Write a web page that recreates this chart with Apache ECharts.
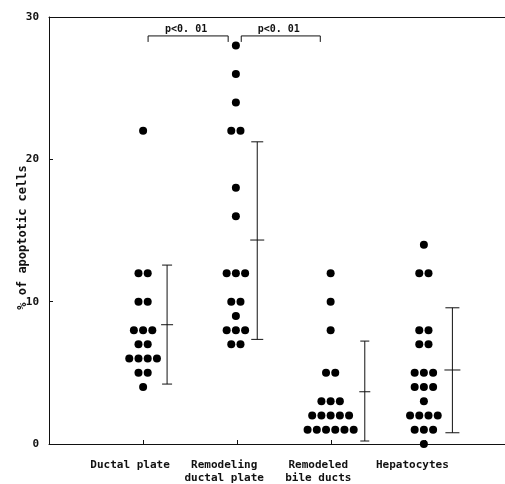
<!DOCTYPE html>
<html><head><meta charset="utf-8">
<script src="https://cdn.jsdelivr.net/npm/echarts@6/dist/echarts.min.js"></script>
<style>html,body{margin:0;padding:0;background:#fff}#c{width:505px;height:484px}</style>
</head><body><div id="c"></div>
<script>
// ---- data ----
const categories = ['Ductal plate', 'Remodeling\nductal plate', 'Remodeled\nbile ducts', 'Hepatocytes'];
const ductalPlate = [22, 12, 12, 10, 10, 8, 8, 8, 7, 7, 6, 6, 6, 6, 5, 5, 4];
const remodelingDuctalPlate = [28, 26, 24, 22, 22, 18, 16, 12, 12, 12, 10, 10, 9, 8, 8, 8, 7, 7];
const remodeledBileDucts = [12, 10, 8, 5, 5, 3, 3, 3, 2, 2, 2, 2, 2, 1, 1, 1, 1, 1, 1];
const hepatocytes = [14, 12, 12, 8, 8, 7, 7, 5, 5, 5, 4, 4, 4, 3, 2, 2, 2, 2, 1, 1, 1, 0];
const errLow = [4.21, 7.35, 0.21, 0.79];
const errMean = [8.38, 14.33, 3.67, 5.2];
const errHigh = [12.57, 21.23, 7.23, 9.57];
const yTicks = [0, 10, 20, 30];
const sigLabel = 'p<0. 01';
const sigPairs = [[1, 2], [2, 3]];

// ---- layout / style constants ----
const FONT = "'DejaVu Sans Mono', monospace";
const INK = '#111';
const groupShift = [0, -0.014, -0.007, -0.016];
const dotStep = 0.098;
const errShift = [0.255, 0.213, 0.356, 0.287];
const capHalf = [5, 6, 4.5, 7];
const bracketY = 28.67, bracketDrop = 6;
const bracketInset = [[0.053, 0.096], [0.043, 0.117]];

const groups = [ductalPlate, remodelingDuctalPlate, remodeledBileDucts, hepatocytes];

function swarm(values, gi) {
  const counts = {}, seen = {};
  values.forEach(v => counts[v] = (counts[v] || 0) + 1);
  return values.map(v => {
    const n = counts[v];
    const k = seen[v] = (seen[v] === undefined ? 0 : seen[v] + 1);
    return [gi + 1 + groupShift[gi] + (k - (n - 1) / 2) * dotStep, v];
  });
}

const chart = echarts.init(document.getElementById('c'), null, {renderer: 'canvas'});
const xMax = 4.846;

const option = {
  backgroundColor: '#fff',
  animation: false,
  grid: {left: 49, right: 0, top: 17, bottom: 40, containLabel: false, outerBoundsMode: 'none'},
  xAxis: [{
    type: 'value', min: 0, max: xMax, interval: 1,
    axisLine: {show: true, lineStyle: {color: INK, width: 1}},
    axisTick: {show: true, inside: true, length: 4, lineStyle: {color: INK}},
    splitLine: {show: false},
    axisLabel: {
      margin: 15, hideOverlap: false,
      formatter: v => (Number.isInteger(v) && v >= 1 && v <= 4) ? '{a|' + categories[v - 1].split('\n').join('}\n{a|') + '}' : '',
      rich: {a: {fontFamily: FONT, fontWeight: 'bold', fontSize: 11, lineHeight: 13, color: INK, padding: [0, 26, 0, 0]}}
    }
  }, {
    type: 'value', position: 'top', min: 0, max: xMax,
    axisLine: {show: true, onZero: false, lineStyle: {color: INK, width: 1}},
    axisTick: {show: false}, axisLabel: {show: false}, splitLine: {show: false}
  }],
  yAxis: {
    type: 'value', min: yTicks[0], max: yTicks[yTicks.length - 1], interval: 10,
    axisLine: {show: true, lineStyle: {color: INK, width: 1}},
    axisTick: {show: true, inside: true, length: 4, lineStyle: {color: INK}},
    splitLine: {show: false},
    axisLabel: {margin: 10, fontFamily: FONT, fontWeight: 'bold', fontSize: 11, color: INK},
    name: '% of apoptotic cells', nameLocation: 'middle', nameRotate: 90, nameGap: 20, nameMoveOverlap: false,
    nameTextStyle: {fontFamily: FONT, fontWeight: 'bold', fontSize: 12, color: INK, padding: [0, 14, 0, 0]}
  },
  series: [
    ...groups.map((g, gi) => ({
      type: 'scatter', data: swarm(g, gi), symbol: 'circle', symbolSize: 8,
      itemStyle: {color: '#000', opacity: 1}, clip: false, silent: true
    })),
    {
      type: 'custom', silent: true, clip: false,
      data: categories.map((c, i) => [i + 1, errLow[i], errMean[i], errHigh[i]]),
      renderItem: function (params, api) {
        const gi = api.value(0) - 1;
        const x = api.value(0) + errShift[gi];
        const pl = api.coord([x, api.value(1)]);
        const pm = api.coord([x, api.value(2)]);
        const ph = api.coord([x, api.value(3)]);
        const h = capHalf[gi];
        const st = {stroke: INK, lineWidth: 1, fill: null};
        return {type: 'group', children: [
          {type: 'line', shape: {x1: pl[0], y1: pl[1], x2: ph[0], y2: ph[1]}, style: st},
          {type: 'line', shape: {x1: pl[0] - h, y1: pl[1], x2: pl[0] + h, y2: pl[1]}, style: st},
          {type: 'line', shape: {x1: ph[0] - h, y1: ph[1], x2: ph[0] + h, y2: ph[1]}, style: st},
          {type: 'line', shape: {x1: pm[0] - h - 1, y1: pm[1], x2: pm[0] + h + 1, y2: pm[1]}, style: st}
        ]};
      }
    },
    {
      type: 'custom', silent: true, clip: false,
      data: sigPairs,
      renderItem: function (params, api) {
        const i = params.dataIndex;
        const a = api.coord([api.value(0) + bracketInset[i][0], bracketY]);
        const b = api.coord([api.value(1) - bracketInset[i][1], bracketY]);
        const st = {stroke: INK, lineWidth: 1, fill: null};
        return {type: 'group', children: [
          {type: 'polyline', shape: {points: [[a[0], a[1] + bracketDrop], [a[0], a[1]], [b[0], b[1]], [b[0], b[1] + bracketDrop]]}, style: st},
          {type: 'text', style: {text: sigLabel, x: (a[0] + b[0]) / 2 - 2, y: a[1] - 7, textAlign: 'center', textVerticalAlign: 'middle',
            fontFamily: FONT, fontWeight: 'bold', fontSize: 10, fill: INK}}
        ]};
      }
    }
  ]
};
chart.setOption(option);
</script>
</body></html>
